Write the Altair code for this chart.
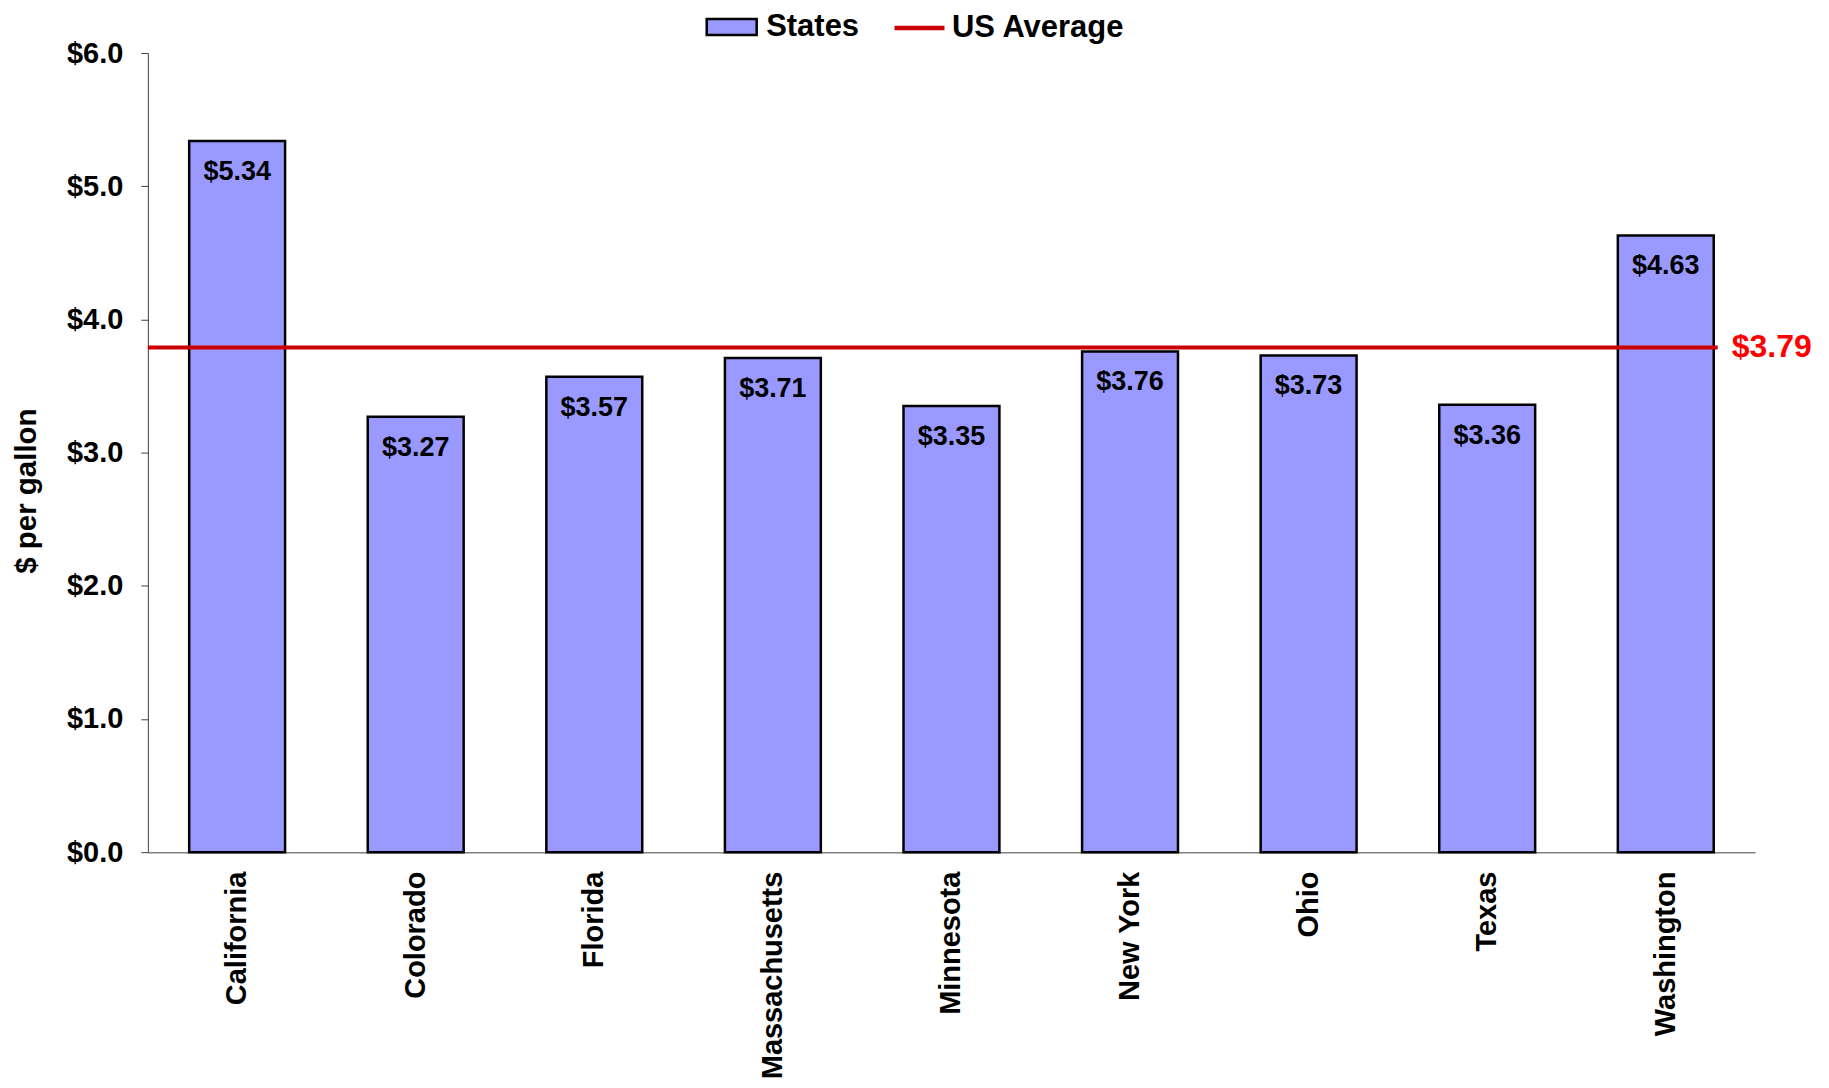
import altair as alt
import pandas as pd

# ---- data ----
states = ["California", "Colorado", "Florida", "Massachusetts", "Minnesota",
          "New York", "Ohio", "Texas", "Washington"]
prices = [5.34, 3.27, 3.57, 3.71, 3.35, 3.76, 3.73, 3.36, 4.63]
us_average = 3.79
us_average_label = "$3.79"
bar_series = ["States"]
bar_colors = ["#9999FF"]
line_series = ["US Average"]
line_colors = ["#CC0000"]
y_ticks = [0, 1, 2, 3, 4, 5, 6]

# ---- layout ----
W, H = 1609, 800
PI = 0.463                     # band paddingInner
step = W / len(states)
line_end = W - step * PI / 2 + 4
FONT = "Liberation Sans, Arial, sans-serif"

bars_df = pd.DataFrame({"state": states, "price": prices, "series": bar_series[0]})
avg_df = pd.DataFrame({"line_series": line_series, "price": [us_average],
                       "label": [us_average_label]})

leg_common = dict(title=None, orient="none", direction="horizontal",
                  labelFont=FONT, labelFontSize=31, labelFontWeight="bold",
                  labelColor="black", padding=0, symbolOpacity=1, labelLimit=0,
                  legendY=-52.5, symbolSize=2500)

bar_legend = alt.Legend(legendX=558, symbolType="M-1,-0.32H1V0.32H-1Z",
                        symbolStrokeColor="black", symbolStrokeWidth=2.5,
                        labelOffset=8, **leg_common)
line_legend = alt.Legend(legendX=745, symbolType="M-1,0H1", symbolStrokeWidth=4.5,
                         labelOffset=5, **leg_common)

x_enc = alt.X(
    "state:N", sort=states,
    scale=alt.Scale(paddingInner=PI, paddingOuter=PI / 2),
    axis=alt.Axis(title=None, labelAngle=-90, labelFont=FONT, labelFontSize=29,
                  labelFontWeight="bold", labelColor="black", ticks=False, tickSize=0,
                  labelPadding=19, labelLimit=0, domainColor="#808080", domainWidth=1.5),
)
y_enc = alt.Y(
    "price:Q",
    scale=alt.Scale(domain=[0, 6], nice=False, zero=True),
    axis=alt.Axis(values=y_ticks, format="$.1f", grid=False,
                  title="$ per gallon", titleFont=FONT, titleFontSize=29.5,
                  titleFontWeight="bold", titleColor="black", titleX=-121, titleY=438,
                  titleBaseline="middle", titleAlign="center",
                  labelFont=FONT, labelFontSize=29, labelFontWeight="bold",
                  labelColor="black", labelPadding=18, tickSize=7,
                  tickColor="#404040", domainColor="#404040", domainWidth=1),
)

bars = alt.Chart(bars_df).mark_bar(stroke="black", strokeWidth=2.5).encode(
    x=x_enc, y=y_enc,
    fill=alt.Fill("series:N", scale=alt.Scale(domain=bar_series, range=bar_colors),
                  legend=bar_legend),
)

bar_labels = alt.Chart(bars_df).mark_text(
    font=FONT, fontSize=27, fontWeight="bold", baseline="middle", dy=31, color="black"
).encode(
    x=alt.X("state:N", sort=states),
    y="price:Q",
    text=alt.Text("price:Q", format="$.2f"),
)

avg_line = alt.Chart(avg_df).mark_rule(strokeWidth=4).encode(
    y="price:Q", x=alt.value(0), x2=alt.value(line_end),
    stroke=alt.Stroke("line_series:N",
                      scale=alt.Scale(domain=line_series, range=line_colors),
                      legend=line_legend),
)

avg_text = alt.Chart(avg_df).mark_text(
    font=FONT, fontSize=32, fontWeight="bold", align="left", baseline="middle",
    color="#FF0000"
).encode(
    x=alt.value(line_end + 14), y="price:Q", text="label:N",
)

chart = alt.layer(bars, bar_labels, avg_line, avg_text).properties(
    width=W, height=H,
    autosize=alt.AutoSizeParams(type="none"),
    padding={"left": 140, "top": 44.5, "right": 66, "bottom": 235},
).configure_view(stroke=None)

chart.save("out.html", embed_options={"renderer": "svg", "actions": False})
